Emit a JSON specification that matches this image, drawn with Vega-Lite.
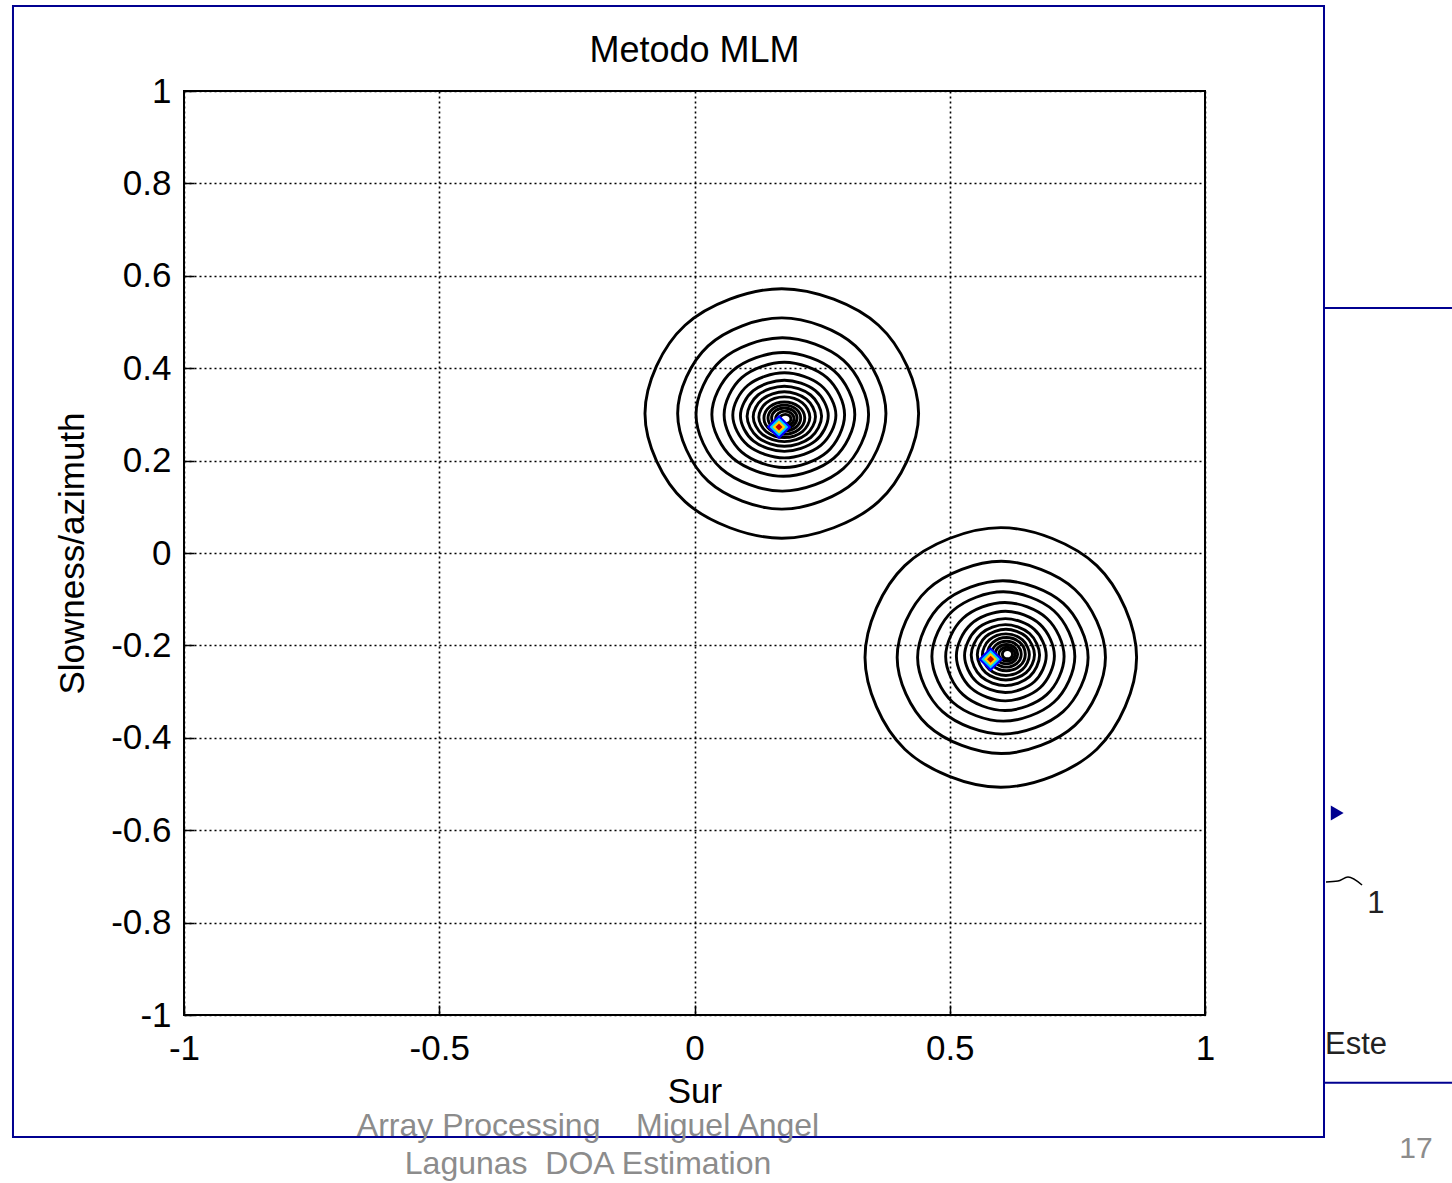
{
"$schema":"https://vega.github.io/schema/vega-lite/v6.json",
"width":1021,"height":924,"autosize":"none",
"padding":{"left":184,"top":91,"right":247,"bottom":168},
"background":"white",
"config":{"view":{"stroke":"#000","strokeWidth":2},"font":"Liberation Sans",
 "axis":{"labelFont":"Liberation Sans","labelFontSize":35,"labelColor":"#000","titleFont":"Liberation Sans","titleFontSize":35,"titleFontWeight":"normal","titleColor":"#000","tickColor":"#000","tickWidth":1.5,"gridColor":"#000","gridDash":[2,3],"gridWidth":1.6,"gridOpacity":1,"domain":false,"grid":true,"labelFlush":false,"labelOverlap":false,"labelBound":false}},
"title":{"text":"Metodo MLM","fontSize":36,"fontWeight":"normal","font":"Liberation Sans","color":"#000","anchor":"middle","baseline":"bottom","frame":"group","offset":-101},
"datasets":{
"contours":[
{"g":"U1","o":0,"x":0.439,"y":0.302},{"g":"U1","o":1,"x":0.3605,"y":0.4929},{"g":"U1","o":2,"x":0.171,"y":0.572},{"g":"U1","o":3,"x":-0.0185,"y":0.4929},{"g":"U1","o":4,"x":-0.097,"y":0.302},{"g":"U1","o":5,"x":-0.0185,"y":0.1111},{"g":"U1","o":6,"x":0.171,"y":0.032},{"g":"U1","o":7,"x":0.3605,"y":0.1111},
{"g":"U2","o":0,"x":0.375,"y":0.302},{"g":"U2","o":1,"x":0.3152,"y":0.4484},{"g":"U2","o":2,"x":0.171,"y":0.509},{"g":"U2","o":3,"x":0.0268,"y":0.4484},{"g":"U2","o":4,"x":-0.033,"y":0.302},{"g":"U2","o":5,"x":0.0268,"y":0.1556},{"g":"U2","o":6,"x":0.171,"y":0.095},{"g":"U2","o":7,"x":0.3152,"y":0.1556},
{"g":"U3","o":0,"x":0.341,"y":0.300},{"g":"U3","o":1,"x":0.2915,"y":0.4174},{"g":"U3","o":2,"x":0.172,"y":0.466},{"g":"U3","o":3,"x":0.0525,"y":0.4174},{"g":"U3","o":4,"x":0.003,"y":0.300},{"g":"U3","o":5,"x":0.0525,"y":0.1826},{"g":"U3","o":6,"x":0.172,"y":0.134},{"g":"U3","o":7,"x":0.2915,"y":0.1826},
{"g":"U4","o":0,"x":0.314,"y":0.300},{"g":"U4","o":1,"x":0.273,"y":0.3948},{"g":"U4","o":2,"x":0.174,"y":0.434},{"g":"U4","o":3,"x":0.075,"y":0.3948},{"g":"U4","o":4,"x":0.034,"y":0.300},{"g":"U4","o":5,"x":0.075,"y":0.2052},{"g":"U4","o":6,"x":0.174,"y":0.166},{"g":"U4","o":7,"x":0.273,"y":0.2052},
{"g":"U5","o":0,"x":0.294,"y":0.299},{"g":"U5","o":1,"x":0.2594,"y":0.3796},{"g":"U5","o":2,"x":0.176,"y":0.413},{"g":"U5","o":3,"x":0.0926,"y":0.3796},{"g":"U5","o":4,"x":0.058,"y":0.299},{"g":"U5","o":5,"x":0.0926,"y":0.2184},{"g":"U5","o":6,"x":0.176,"y":0.185},{"g":"U5","o":7,"x":0.2594,"y":0.2184},
{"g":"U6","o":0,"x":0.277,"y":0.298},{"g":"U6","o":1,"x":0.2474,"y":0.3631},{"g":"U6","o":2,"x":0.176,"y":0.390},{"g":"U6","o":3,"x":0.1046,"y":0.3631},{"g":"U6","o":4,"x":0.075,"y":0.298},{"g":"U6","o":5,"x":0.1046,"y":0.2329},{"g":"U6","o":6,"x":0.176,"y":0.206},{"g":"U6","o":7,"x":0.2474,"y":0.2329},
{"g":"U7","o":0,"x":0.262,"y":0.297},{"g":"U7","o":1,"x":0.2368,"y":0.3514},{"g":"U7","o":2,"x":0.176,"y":0.374},{"g":"U7","o":3,"x":0.1152,"y":0.3514},{"g":"U7","o":4,"x":0.090,"y":0.297},{"g":"U7","o":5,"x":0.1152,"y":0.2426},{"g":"U7","o":6,"x":0.176,"y":0.220},{"g":"U7","o":7,"x":0.2368,"y":0.2426},
{"g":"U8","o":0,"x":0.249,"y":0.296},{"g":"U8","o":1,"x":0.2276,"y":0.342},{"g":"U8","o":2,"x":0.176,"y":0.361},{"g":"U8","o":3,"x":0.1244,"y":0.342},{"g":"U8","o":4,"x":0.103,"y":0.296},{"g":"U8","o":5,"x":0.1244,"y":0.250},{"g":"U8","o":6,"x":0.176,"y":0.231},{"g":"U8","o":7,"x":0.2276,"y":0.250},
{"g":"U9","o":0,"x":0.237,"y":0.295},{"g":"U9","o":1,"x":0.2191,"y":0.3332},{"g":"U9","o":2,"x":0.176,"y":0.349},{"g":"U9","o":3,"x":0.1329,"y":0.3332},{"g":"U9","o":4,"x":0.115,"y":0.295},{"g":"U9","o":5,"x":0.1329,"y":0.2568},{"g":"U9","o":6,"x":0.176,"y":0.241},{"g":"U9","o":7,"x":0.2191,"y":0.2568},
{"g":"U10","o":0,"x":0.226,"y":0.294},{"g":"U10","o":1,"x":0.2114,"y":0.3251},{"g":"U10","o":2,"x":0.176,"y":0.338},{"g":"U10","o":3,"x":0.1406,"y":0.3251},{"g":"U10","o":4,"x":0.126,"y":0.294},{"g":"U10","o":5,"x":0.1406,"y":0.2629},{"g":"U10","o":6,"x":0.176,"y":0.250},{"g":"U10","o":7,"x":0.2114,"y":0.2629},
{"g":"U11","o":0,"x":0.216,"y":0.292},{"g":"U11","o":1,"x":0.2043,"y":0.3167},{"g":"U11","o":2,"x":0.176,"y":0.327},{"g":"U11","o":3,"x":0.1477,"y":0.3167},{"g":"U11","o":4,"x":0.136,"y":0.292},{"g":"U11","o":5,"x":0.1477,"y":0.2673},{"g":"U11","o":6,"x":0.176,"y":0.257},{"g":"U11","o":7,"x":0.2043,"y":0.2673},
{"g":"U12","o":0,"x":0.208,"y":0.292},{"g":"U12","o":1,"x":0.1986,"y":0.3118},{"g":"U12","o":2,"x":0.176,"y":0.320},{"g":"U12","o":3,"x":0.1534,"y":0.3118},{"g":"U12","o":4,"x":0.144,"y":0.292},{"g":"U12","o":5,"x":0.1534,"y":0.2722},{"g":"U12","o":6,"x":0.176,"y":0.264},{"g":"U12","o":7,"x":0.1986,"y":0.2722},
{"g":"U13","o":0,"x":0.201,"y":0.292},{"g":"U13","o":1,"x":0.1937,"y":0.3076},{"g":"U13","o":2,"x":0.176,"y":0.314},{"g":"U13","o":3,"x":0.1583,"y":0.3076},{"g":"U13","o":4,"x":0.151,"y":0.292},{"g":"U13","o":5,"x":0.1583,"y":0.2764},{"g":"U13","o":6,"x":0.176,"y":0.270},{"g":"U13","o":7,"x":0.1937,"y":0.2764},
{"g":"U14","o":0,"x":0.195,"y":0.291},{"g":"U14","o":1,"x":0.1897,"y":0.3023},{"g":"U14","o":2,"x":0.177,"y":0.307},{"g":"U14","o":3,"x":0.1643,"y":0.3023},{"g":"U14","o":4,"x":0.159,"y":0.291},{"g":"U14","o":5,"x":0.1643,"y":0.2797},{"g":"U14","o":6,"x":0.177,"y":0.275},{"g":"U14","o":7,"x":0.1897,"y":0.2797},
{"g":"U15","o":0,"x":0.189,"y":0.290},{"g":"U15","o":1,"x":0.1858,"y":0.2971},{"g":"U15","o":2,"x":0.178,"y":0.300},{"g":"U15","o":3,"x":0.1702,"y":0.2971},{"g":"U15","o":4,"x":0.167,"y":0.290},{"g":"U15","o":5,"x":0.1702,"y":0.2829},{"g":"U15","o":6,"x":0.178,"y":0.280},{"g":"U15","o":7,"x":0.1858,"y":0.2829},
{"g":"L1","o":0,"x":0.866,"y":-0.226},{"g":"L1","o":1,"x":0.7881,"y":-0.0273},{"g":"L1","o":2,"x":0.600,"y":0.055},{"g":"L1","o":3,"x":0.4119,"y":-0.0273},{"g":"L1","o":4,"x":0.334,"y":-0.226},{"g":"L1","o":5,"x":0.4119,"y":-0.4247},{"g":"L1","o":6,"x":0.600,"y":-0.507},{"g":"L1","o":7,"x":0.7881,"y":-0.4247},
{"g":"L2","o":0,"x":0.805,"y":-0.226},{"g":"L2","o":1,"x":0.7452,"y":-0.0789},{"g":"L2","o":2,"x":0.601,"y":-0.018},{"g":"L2","o":3,"x":0.4568,"y":-0.0789},{"g":"L2","o":4,"x":0.397,"y":-0.226},{"g":"L2","o":5,"x":0.4568,"y":-0.3731},{"g":"L2","o":6,"x":0.601,"y":-0.434},{"g":"L2","o":7,"x":0.7452,"y":-0.3731},
{"g":"L3","o":0,"x":0.771,"y":-0.226},{"g":"L3","o":1,"x":0.7221,"y":-0.1086},{"g":"L3","o":2,"x":0.604,"y":-0.060},{"g":"L3","o":3,"x":0.4859,"y":-0.1086},{"g":"L3","o":4,"x":0.437,"y":-0.226},{"g":"L3","o":5,"x":0.4859,"y":-0.3434},{"g":"L3","o":6,"x":0.604,"y":-0.392},{"g":"L3","o":7,"x":0.7221,"y":-0.3434},
{"g":"L4","o":0,"x":0.745,"y":-0.224},{"g":"L4","o":1,"x":0.704,"y":-0.125},{"g":"L4","o":2,"x":0.605,"y":-0.084},{"g":"L4","o":3,"x":0.506,"y":-0.125},{"g":"L4","o":4,"x":0.465,"y":-0.224},{"g":"L4","o":5,"x":0.506,"y":-0.323},{"g":"L4","o":6,"x":0.605,"y":-0.364},{"g":"L4","o":7,"x":0.704,"y":-0.323},
{"g":"L5","o":0,"x":0.724,"y":-0.224},{"g":"L5","o":1,"x":0.690,"y":-0.1413},{"g":"L5","o":2,"x":0.608,"y":-0.107},{"g":"L5","o":3,"x":0.526,"y":-0.1413},{"g":"L5","o":4,"x":0.492,"y":-0.224},{"g":"L5","o":5,"x":0.526,"y":-0.3067},{"g":"L5","o":6,"x":0.608,"y":-0.341},{"g":"L5","o":7,"x":0.690,"y":-0.3067},
{"g":"L6","o":0,"x":0.705,"y":-0.223},{"g":"L6","o":1,"x":0.6769,"y":-0.1544},{"g":"L6","o":2,"x":0.609,"y":-0.126},{"g":"L6","o":3,"x":0.5411,"y":-0.1544},{"g":"L6","o":4,"x":0.513,"y":-0.223},{"g":"L6","o":5,"x":0.5411,"y":-0.2916},{"g":"L6","o":6,"x":0.609,"y":-0.320},{"g":"L6","o":7,"x":0.6769,"y":-0.2916},
{"g":"L7","o":0,"x":0.689,"y":-0.222},{"g":"L7","o":1,"x":0.6656,"y":-0.1654},{"g":"L7","o":2,"x":0.609,"y":-0.142},{"g":"L7","o":3,"x":0.5524,"y":-0.1654},{"g":"L7","o":4,"x":0.529,"y":-0.222},{"g":"L7","o":5,"x":0.5524,"y":-0.2786},{"g":"L7","o":6,"x":0.609,"y":-0.302},{"g":"L7","o":7,"x":0.6656,"y":-0.2786},
{"g":"L8","o":0,"x":0.676,"y":-0.221},{"g":"L8","o":1,"x":0.6564,"y":-0.1743},{"g":"L8","o":2,"x":0.609,"y":-0.155},{"g":"L8","o":3,"x":0.5616,"y":-0.1743},{"g":"L8","o":4,"x":0.542,"y":-0.221},{"g":"L8","o":5,"x":0.5616,"y":-0.2677},{"g":"L8","o":6,"x":0.609,"y":-0.287},{"g":"L8","o":7,"x":0.6564,"y":-0.2677},
{"g":"L9","o":0,"x":0.666,"y":-0.220},{"g":"L9","o":1,"x":0.6496,"y":-0.1811},{"g":"L9","o":2,"x":0.610,"y":-0.165},{"g":"L9","o":3,"x":0.5704,"y":-0.1811},{"g":"L9","o":4,"x":0.554,"y":-0.220},{"g":"L9","o":5,"x":0.5704,"y":-0.2589},{"g":"L9","o":6,"x":0.610,"y":-0.275},{"g":"L9","o":7,"x":0.6496,"y":-0.2589},
{"g":"L10","o":0,"x":0.656,"y":-0.220},{"g":"L10","o":1,"x":0.6425,"y":-0.1882},{"g":"L10","o":2,"x":0.610,"y":-0.175},{"g":"L10","o":3,"x":0.5775,"y":-0.1882},{"g":"L10","o":4,"x":0.564,"y":-0.220},{"g":"L10","o":5,"x":0.5775,"y":-0.2518},{"g":"L10","o":6,"x":0.610,"y":-0.265},{"g":"L10","o":7,"x":0.6425,"y":-0.2518},
{"g":"L11","o":0,"x":0.648,"y":-0.219},{"g":"L11","o":1,"x":0.6372,"y":-0.1935},{"g":"L11","o":2,"x":0.611,"y":-0.183},{"g":"L11","o":3,"x":0.5848,"y":-0.1935},{"g":"L11","o":4,"x":0.574,"y":-0.219},{"g":"L11","o":5,"x":0.5848,"y":-0.2445},{"g":"L11","o":6,"x":0.611,"y":-0.255},{"g":"L11","o":7,"x":0.6372,"y":-0.2445},
{"g":"L12","o":0,"x":0.640,"y":-0.219},{"g":"L12","o":1,"x":0.6315,"y":-0.1992},{"g":"L12","o":2,"x":0.611,"y":-0.191},{"g":"L12","o":3,"x":0.5905,"y":-0.1992},{"g":"L12","o":4,"x":0.582,"y":-0.219},{"g":"L12","o":5,"x":0.5905,"y":-0.2388},{"g":"L12","o":6,"x":0.611,"y":-0.247},{"g":"L12","o":7,"x":0.6315,"y":-0.2388},
{"g":"L13","o":0,"x":0.633,"y":-0.219},{"g":"L13","o":1,"x":0.6266,"y":-0.2042},{"g":"L13","o":2,"x":0.611,"y":-0.198},{"g":"L13","o":3,"x":0.5954,"y":-0.2042},{"g":"L13","o":4,"x":0.589,"y":-0.219},{"g":"L13","o":5,"x":0.5954,"y":-0.2338},{"g":"L13","o":6,"x":0.611,"y":-0.240},{"g":"L13","o":7,"x":0.6266,"y":-0.2338},
{"g":"L14","o":0,"x":0.628,"y":-0.219},{"g":"L14","o":1,"x":0.6233,"y":-0.2084},{"g":"L14","o":2,"x":0.612,"y":-0.204},{"g":"L14","o":3,"x":0.6007,"y":-0.2084},{"g":"L14","o":4,"x":0.596,"y":-0.219},{"g":"L14","o":5,"x":0.6007,"y":-0.2296},{"g":"L14","o":6,"x":0.612,"y":-0.234},{"g":"L14","o":7,"x":0.6233,"y":-0.2296},
{"g":"L15","o":0,"x":0.623,"y":-0.219},{"g":"L15","o":1,"x":0.6201,"y":-0.2119},{"g":"L15","o":2,"x":0.613,"y":-0.209},{"g":"L15","o":3,"x":0.6059,"y":-0.2119},{"g":"L15","o":4,"x":0.603,"y":-0.219},{"g":"L15","o":5,"x":0.6059,"y":-0.2261},{"g":"L15","o":6,"x":0.613,"y":-0.229},{"g":"L15","o":7,"x":0.6201,"y":-0.2261}
],
"peaks":[
{"x":0.1655,"y":0.2727,"lev":1},{"x":0.1655,"y":0.2727,"lev":2},{"x":0.1655,"y":0.2727,"lev":3},{"x":0.1655,"y":0.2727,"lev":4},
{"x":0.580,"y":-0.230,"lev":1},{"x":0.580,"y":-0.230,"lev":2},{"x":0.580,"y":-0.230,"lev":3},{"x":0.580,"y":-0.230,"lev":4}
],
"frame":[{"x":-1.335,"x2":1.2331,"y":1.184,"y2":-1.2641}],
"rules":[{"x":1.2331,"x2":1.4838,"y":0.5303},{"x":1.2331,"x2":1.4838,"y":-1.1465}],
"curve":[{"o":0,"x":1.237,"y":-0.7121},{"o":1,"x":1.2605,"y":-0.71},{"o":2,"x":1.2801,"y":-0.7013},{"o":3,"x":1.3076,"y":-0.7186}],
"arrow":[{"x":1.259,"y":-0.5628}],
"footer":[{"x":-0.2086,"y":-1.2619,"t":"Array Processing\u00a0\u00a0\u00a0\u00a0Miguel Angel"},{"x":-0.2086,"y":-1.3442,"t":"Lagunas\u00a0\u00a0DOA Estimation"}],
"page":[{"x":1.4133,"y":-1.3095,"t":"17"}],
"side":[{"x":1.2351,"y":-1.0844,"t":"Este"},{"x":1.318,"y":-0.7792,"t":"1"}]
},
"encoding":{
 "x":{"field":"x","type":"quantitative","scale":{"domain":[-1,1],"nice":false,"zero":false},
  "axis":{"title":"Sur","values":[-1,-0.5,0,0.5,1],"labelExpr":"toString(datum.value)","labelPadding":26,"titlePadding":8,"tickSize":-10}},
 "y":{"field":"y","type":"quantitative","scale":{"domain":[-1,1],"nice":false,"zero":false},
  "axis":{"title":"Slowness/azimuth","values":[-1,-0.8,-0.6,-0.4,-0.2,0,0.2,0.4,0.6,0.8,1],"labelExpr":"toString(datum.value)","labelPadding":23,"titlePadding":20,"tickSize":-10}}
},
"layer":[
 {"data":{"name":"frame"},"mark":{"type":"rect","filled":false,"stroke":"#000090","strokeWidth":2},"encoding":{"x2":{"field":"x2"},"y2":{"field":"y2"}}},
 {"data":{"name":"rules"},"mark":{"type":"rule","stroke":"#000090","strokeWidth":2},"encoding":{"x2":{"field":"x2"}}},
 {"data":{"name":"contours"},"mark":{"type":"line","interpolate":"cardinal-closed","stroke":"#000","strokeWidth":2.9},"encoding":{"detail":{"field":"g"},"order":{"field":"o","type":"quantitative"}}},
 {"data":{"name":"peaks"},"mark":{"type":"point","shape":"diamond","filled":true,"opacity":1,"strokeWidth":0},"encoding":{"color":{"field":"lev","type":"ordinal","scale":{"domain":[1,2,3,4],"range":["#0000ff","#00d0ff","#ffd000","#c00000"]},"legend":null},"size":{"field":"lev","type":"quantitative","scale":{"type":"linear","domain":[1,2,3,4],"range":[600,350,170,50]},"legend":null}}},
 {"data":{"name":"curve"},"mark":{"type":"line","interpolate":"monotone","stroke":"#000","strokeWidth":1.5},"encoding":{"order":{"field":"o","type":"quantitative"}}},
 {"data":{"name":"arrow"},"mark":{"type":"point","shape":"triangle-right","filled":true,"opacity":1,"color":"#000090","size":220}},
 {"data":{"name":"footer"},"mark":{"type":"text","align":"center","baseline":"alphabetic","fontSize":32,"color":"#8c8c8c","font":"Liberation Sans"},"encoding":{"text":{"field":"t"}}},
 {"data":{"name":"page"},"mark":{"type":"text","align":"center","baseline":"alphabetic","fontSize":30,"color":"#8c8c8c","font":"Liberation Sans"},"encoding":{"text":{"field":"t"}}},
 {"data":{"name":"side"},"mark":{"type":"text","align":"left","baseline":"alphabetic","fontSize":31,"color":"#222","font":"Liberation Sans"},"encoding":{"text":{"field":"t"}}}
]
}
